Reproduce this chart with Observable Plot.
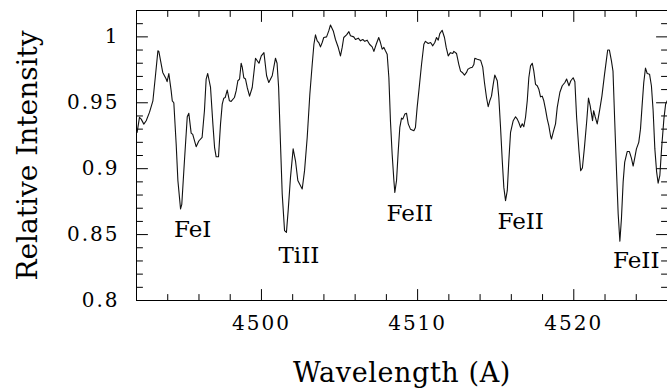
<!DOCTYPE html>
<html><head><meta charset="utf-8">
<script src="https://cdn.jsdelivr.net/npm/d3@7"></script>
<script src="https://cdn.jsdelivr.net/npm/@observablehq/plot@0.6"></script>
<style>html,body{margin:0;padding:0;background:#fff;overflow:hidden}</style>
</head><body><div id="chart"></div>
<script>
const wavelength = [
4492.04,4492.19,4492.30,4492.47,4492.62,4492.83,4493.05,4493.20,4493.37,4493.43,4493.68,4493.90,4493.96,4494.07,4494.22,4494.29,4494.39,4494.54,4494.65,4494.82,4494.90,4495.07,4495.25,4495.35,4495.50,4495.60,4495.82,4495.99,4496.20,4496.35,4496.46,4496.56,4496.74,4496.89,4497.00,4497.10,4497.25,4497.38,4497.49,4497.59,4497.68,4497.81,4497.95,4498.06,4498.27,4498.38,4498.49,4498.60,4498.70,
4498.77,4498.87,4498.98,4499.09,4499.24,4499.41,4499.62,4499.84,4499.99,4500.16,4500.33,4500.47,4500.69,4500.90,4501.00,4501.10,4501.22,4501.33,4501.48,4501.60,4501.71,4501.86,4502.03,4502.18,4502.33,4502.46,4502.61,4502.76,4502.93,4503.10,4503.25,4503.36,4503.46,4503.57,4503.67,4503.78,4503.89,4503.99,4504.17,4504.31,4504.42,4504.60,4504.74,4504.92,4505.06,4505.17,4505.27,4505.45,4505.60,
4505.70,4505.91,4506.02,4506.20,4506.34,4506.49,4506.62,4506.77,4506.92,4507.09,4507.20,4507.35,4507.51,4507.62,4507.73,4507.84,4507.94,4508.05,4508.16,4508.26,4508.37,4508.48,4508.54,4508.65,4508.76,4508.86,4508.97,4509.05,4509.18,4509.29,4509.40,4509.54,4509.76,4509.86,4509.97,4510.08,4510.25,4510.40,4510.50,4510.68,4510.83,4510.97,4511.10,4511.21,4511.32,4511.42,4511.57,4511.72,4511.83,4511.96,4512.10,4512.25,
4512.32,4512.49,4512.64,4512.75,4512.86,4513.00,4513.13,4513.22,4513.34,4513.50,4513.60,4513.66,4513.82,4514.03,4514.17,4514.28,4514.41,4514.52,4514.62,4514.73,4514.84,4514.94,4515.10,4515.20,4515.31,4515.42,4515.52,4515.63,4515.74,4515.84,4515.95,4516.12,4516.27,4516.38,4516.48,4516.59,4516.70,4516.80,4516.91,4517.02,4517.12,4517.23,4517.34,4517.44,4517.55,4517.66,4517.76,4517.87,4517.98,4518.08,4518.19,4518.30,4518.40,4518.51,4518.57,4518.68,4518.83,4518.94,
4519.11,4519.26,4519.43,4519.54,4519.69,4519.81,4519.96,4520.07,4520.18,4520.33,4520.44,4520.55,4520.68,4520.83,4520.94,4521.05,4521.20,4521.27,4521.37,4521.50,4521.65,4521.80,4521.97,4522.08,4522.17,4522.28,4522.41,4522.51,4522.62,4522.73,4522.84,4522.95,4523.05,4523.16,4523.26,4523.42,4523.56,4523.69,4523.80,4523.90,4524.01,4524.16,4524.27,4524.38,4524.48,4524.59,4524.70,4524.85,4524.97,4525.08,4525.19,4525.30,4525.40,4525.51,4525.62,4525.77,4525.88,4526.00
];
const intensity = [
0.9275,0.9389,0.9376,0.9338,0.9364,0.9427,0.9515,0.969,0.9894,0.989,0.973,0.968,0.966,0.9722,0.959,0.9515,0.950,0.9187,0.891,0.8695,0.873,0.906,0.9394,0.942,0.927,0.926,0.9167,0.921,0.9237,0.944,0.968,0.9722,0.9616,0.934,0.916,0.909,0.909,0.934,0.949,0.9535,0.954,0.9596,0.9515,0.951,0.954,0.959,0.9667,0.968,0.980,
0.977,0.969,0.968,0.9616,0.955,0.9616,0.9838,0.980,0.9856,0.988,0.9705,0.9654,0.9705,0.9838,0.980,0.9616,0.9187,0.8808,0.853,0.8517,0.868,0.8934,0.915,0.906,0.891,0.888,0.8846,0.8985,0.9237,0.9566,0.979,0.9944,1.0015,0.997,0.9957,0.9924,0.9957,0.9995,1.000,1.0045,1.009,1.0045,0.998,0.9919,0.9856,0.992,0.9995,1.0015,1.004,
1.0008,1.000,0.998,0.999,0.997,0.998,0.9966,0.9975,0.9944,0.9924,0.989,0.9944,0.9995,0.9957,0.9907,0.992,0.9894,0.9869,0.969,0.9364,0.911,0.891,0.882,0.891,0.9136,0.9313,0.9384,0.9376,0.9414,0.942,0.934,0.930,0.9288,0.9313,0.9465,0.959,0.979,0.9944,0.9966,0.995,0.9957,0.9932,0.9957,0.9995,0.9975,1.0025,1.005,0.9995,0.992,0.9856,0.988,0.9874,
0.989,0.9874,0.979,0.974,0.973,0.971,0.973,0.9755,0.9763,0.977,0.979,0.9838,0.983,0.9823,0.977,0.9654,0.954,0.947,0.9515,0.955,0.964,0.971,0.9667,0.954,0.9313,0.906,0.8858,0.8758,0.8833,0.906,0.9275,0.9364,0.9394,0.9376,0.935,0.9313,0.934,0.9318,0.939,0.9515,0.969,0.978,0.980,0.974,0.964,0.9629,0.9603,0.9545,0.955,0.9515,0.945,0.9376,0.9326,0.925,0.9225,0.9275,0.934,0.9465,
0.958,0.9629,0.9654,0.968,0.9629,0.9667,0.969,0.966,0.939,0.9136,0.8985,0.9005,0.916,0.9364,0.9535,0.9477,0.9364,0.944,0.9394,0.934,0.944,0.955,0.9717,0.9818,0.990,0.990,0.9818,0.974,0.9364,0.900,0.866,0.845,0.862,0.890,0.905,0.913,0.913,0.908,0.902,0.908,0.915,0.920,0.930,0.949,0.9654,0.9763,0.9722,0.9717,0.9629,0.944,0.915,0.898,0.889,0.895,0.915,0.938,0.949,0.952
];
const lineNames = ["FeI", "TiII", "FeII", "FeII", "FeII"];
const lineLabelWavelength = [4495.6, 4502.4, 4509.5, 4516.6, 4524.0];
const lineLabelIntensity = [0.854, 0.834, 0.866, 0.860, 0.830];
const xDomain = [4492, 4526];
const yDomain = [0.8, 1.02];
const xMajorTicks = [4500, 4510, 4520];
const xMinorTicks = [4494, 4496, 4498, 4502, 4504, 4506, 4508, 4512, 4514, 4516, 4518, 4522, 4524];
const yMajorTicks = [0.85, 0.9, 0.95, 1.0];
const yMinorTicks = [0.81, 0.82, 0.83, 0.84, 0.86, 0.87, 0.88, 0.89, 0.91, 0.92, 0.93, 0.94, 0.96, 0.97, 0.98, 0.99, 1.01];
const yTickLabels = [0.8, 0.85, 0.9, 0.95, 1];
const xLabel = "Wavelength (A)";
const yLabel = "Relative Intensity";

const spectrum = wavelength.map((w, i) => ({w, v: intensity[i]}));
const labels = lineNames.map((name, i) => ({name, w: lineLabelWavelength[i], v: lineLabelIntensity[i]}));

const FONT = "DejaVu Serif";
const tickShape = {draw(ctx, l) { ctx.moveTo(0, 0); ctx.lineTo(0, -l); }};
const tk = {shape: tickShape, anchor: "start", stroke: "black", strokeWidth: 1};
const MAJ = 11, MIN = 6;

const chart = Plot.plot({
  width: 667, height: 392,
  marginLeft: 136, marginRight: 0, marginTop: 10, marginBottom: 92,
  style: {fontFamily: FONT, background: "#fff", color: "black", overflow: "visible"},
  x: {domain: xDomain},
  y: {domain: yDomain},
  marks: [
    Plot.ruleY([yDomain[0], yDomain[1]], {stroke: "black", strokeWidth: 1}),
    Plot.ruleX([xDomain[0]], {stroke: "black", strokeWidth: 1}),
    Plot.vector(xMajorTicks, {x: d => d, y: () => yDomain[0], length: MAJ, rotate: 0, ...tk}),
    Plot.vector(xMinorTicks, {x: d => d, y: () => yDomain[0], length: MIN, rotate: 0, ...tk}),
    Plot.vector(xMajorTicks, {x: d => d, y: () => yDomain[1], length: MAJ, rotate: 180, ...tk}),
    Plot.vector(xMinorTicks, {x: d => d, y: () => yDomain[1], length: MIN, rotate: 180, ...tk}),
    Plot.vector(yMajorTicks, {y: d => d, x: () => xDomain[0], length: MAJ, rotate: 90, ...tk}),
    Plot.vector(yMinorTicks, {y: d => d, x: () => xDomain[0], length: MIN, rotate: 90, ...tk}),
    Plot.vector(yMajorTicks, {y: d => d, x: () => xDomain[1], length: MAJ, rotate: -90, ...tk}),
    Plot.vector(yMinorTicks, {y: d => d, x: () => xDomain[1], length: MIN, rotate: -90, ...tk}),
    Plot.axisX(xMajorTicks, {anchor: "bottom", tickSize: 0, tickPadding: 15, fontSize: 20, fontFamily: FONT, tickFormat: d => String(d), label: null, fill: "black"}),
    Plot.axisY(yTickLabels, {anchor: "left", tickSize: 0, tickPadding: 17, fontSize: 20, fontFamily: FONT, tickFormat: d => String(d), label: null, fill: "black"}),
    Plot.line(spectrum, {x: "w", y: "v", stroke: "#111", strokeWidth: 1.1}),
    Plot.text(labels, {x: "w", y: "v", text: "name", fontSize: 23, fontFamily: FONT, fill: "black"}),
    Plot.text([xLabel], {text: d => d, x: () => (xDomain[0] + xDomain[1]) / 2, y: () => yDomain[0], dy: 73, fontSize: 27, fontFamily: FONT, fill: "black"}),
    Plot.text([yLabel], {text: d => d, x: () => xDomain[0], y: () => (yDomain[0] + yDomain[1]) / 2, dx: -108, rotate: -90, fontSize: 28, fontFamily: FONT, fill: "black"})
  ]
});
d3.select(chart).selectAll('g[aria-label$="tick label"] text').attr("letter-spacing", "2px");
d3.select(chart).selectAll('text').filter(function() { return this.textContent === xLabel; }).attr("letter-spacing", "0.6px");
document.getElementById("chart").appendChild(chart);
</script>
</body></html>
